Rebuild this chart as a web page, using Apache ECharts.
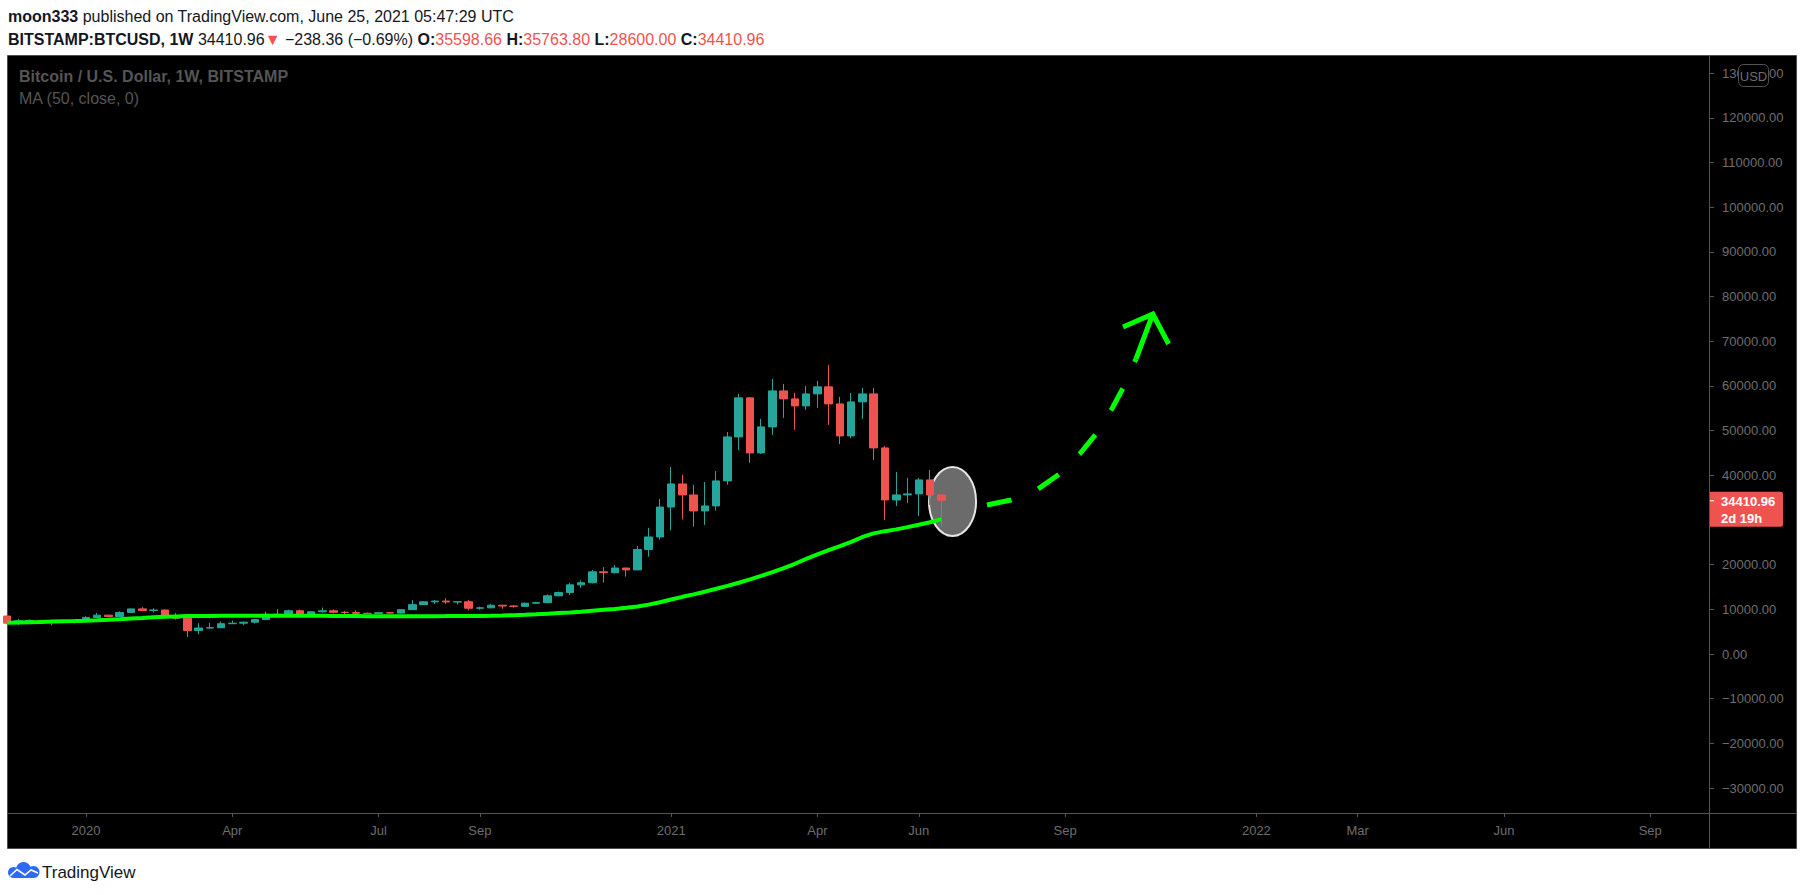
<!DOCTYPE html>
<html><head><meta charset="utf-8">
<script src="https://cdn.jsdelivr.net/npm/echarts@6.0.0/dist/echarts.min.js"></script>
<style>html,body{margin:0;padding:0;background:#fff;}#c{width:1805px;height:895px;}</style>
</head><body><div id="c"></div>
<script>
// ---------- data ----------
const weeks = ['2019-11-18','2019-11-25','2019-12-02','2019-12-09','2019-12-16','2019-12-23','2019-12-30',
'2020-01-06','2020-01-13','2020-01-20','2020-01-27','2020-02-03','2020-02-10','2020-02-17','2020-02-24',
'2020-03-02','2020-03-09','2020-03-16','2020-03-23','2020-03-30','2020-04-06','2020-04-13','2020-04-20','2020-04-27',
'2020-05-04','2020-05-11','2020-05-18','2020-05-25','2020-06-01','2020-06-08','2020-06-15','2020-06-22','2020-06-29',
'2020-07-06','2020-07-13','2020-07-20','2020-07-27','2020-08-03','2020-08-10','2020-08-17','2020-08-24','2020-08-31',
'2020-09-07','2020-09-14','2020-09-21','2020-09-28','2020-10-05','2020-10-12','2020-10-19','2020-10-26',
'2020-11-02','2020-11-09','2020-11-16','2020-11-23','2020-11-30','2020-12-07','2020-12-14','2020-12-21','2020-12-28',
'2021-01-04','2021-01-11','2021-01-18','2021-01-25','2021-02-01','2021-02-08','2021-02-15','2021-02-22',
'2021-03-01','2021-03-08','2021-03-15','2021-03-22','2021-03-29','2021-04-05','2021-04-12','2021-04-19','2021-04-26',
'2021-05-03','2021-05-10','2021-05-17','2021-05-24','2021-05-31','2021-06-07','2021-06-14','2021-06-21'];

const open = [8500,6900,7420,7520,7110,7500,7390,
7360,8180,8700,8380,9300,10100,9750,9850,
8530,8000,5250,5820,5880,6780,6900,7120,7700,
8900,8750,9680,8730,9450,9670,9330,9290,9110,
9070,9250,9160,9930,11050,11680,11850,11650,11700,
10250,10330,10920,10740,10670,11370,11500,13030,
13760,15480,15960,18400,18200,19250,18830,23400,26200,
32900,38070,35610,32030,33150,38750,48600,57340,
45020,50840,58900,57110,55540,58230,59800,55990,48830,
56440,58230,46140,34490,35610,35840,38970,35598.66];
const high = [8600,7850,7760,7650,7520,7690,7540,
8470,9190,8780,9550,10150,10500,10250,9960,
9170,8170,6900,6990,7290,7470,7300,7750,9480,
10050,9930,9950,9600,10380,9990,9650,9800,9300,
9450,9300,10000,12080,11800,12100,12480,11800,12100,
10600,11180,11000,10950,11500,11700,13350,14000,
15950,16500,18800,19450,19900,19300,24200,28250,34700,
41880,40100,37850,38500,40950,49700,58250,57550,
52640,61590,60470,58450,60020,61140,64730,57560,58450,
59580,59580,46590,40760,39420,39420,41200,35763.80];
const low = [6790,6520,7230,6970,6430,7150,6860,
7350,8040,8240,8300,9150,9700,9300,8450,
7700,3800,4440,5690,5860,6760,6460,6800,7650,
8100,8200,8800,8630,9300,9120,8900,8850,8950,
9050,9000,9100,9900,11000,11200,11200,11100,9800,
9900,10260,10130,10370,10530,11200,11400,12900,
13200,14800,15800,16000,18000,17330,18800,21800,25600,
27700,30100,28500,28900,32100,37900,45700,42800,
44800,49050,52860,50200,54650,55100,51300,47000,48300,
52630,43450,30000,33150,33820,30900,33400,28600.00];
const close = [6900,7420,7520,7110,7500,7390,7360,
8180,8700,8380,9300,10100,9750,9850,8530,
8000,5250,5820,5880,6780,6900,7120,7700,8900,
8750,9680,8730,9450,9670,9330,9290,9110,9070,
9250,9160,9930,11050,11680,11850,11650,11700,10250,
10330,10920,10740,10670,11370,11500,13030,13760,
15480,15960,18400,18200,19250,18830,23400,26200,32900,
38070,35610,32030,33150,38750,48600,57340,45020,
50840,58900,57110,55540,58230,59800,55990,48830,56440,
58230,46140,34490,35610,35840,38970,35598.66,34410.96];
// MA (50, close), one value per week
const ma50 = [7000,7060,7120,7180,7250,7320,7390,
7470,7570,7680,7800,7930,8060,8200,8330,
8420,8480,8510,8530,8550,8560,8570,8580,8590,
8590,8590,8580,8570,8550,8530,8510,8490,8470,
8450,8440,8440,8450,8460,8470,8480,8500,8510,
8530,8570,8630,8700,8790,8890,9020,9170,
9300,9450,9680,9900,10100,10330,10650,11050,11600,
12200,12800,13350,13950,14600,15250,15950,16700,
17500,18350,19250,20200,21300,22300,23250,24150,25100,
26200,27000,27500,27900,28400,28950,29500,30150];

// axis ticks (x = weekly bar index, future weeks continue the count)
const xTickIdx  = [7,20,33,42,59,72,81,94,111,120,133,146];
const xTickText = ['2020','Apr','Jul','Sep','2021','Apr','Jun','Sep','2022','Mar','Jun','Sep'];
const yTicks = [-30000,-20000,-10000,0,10000,20000,30000,40000,50000,60000,70000,80000,90000,100000,110000,120000,130000];
const yLabels = [-30000,-20000,-10000,0,10000,20000,40000,50000,60000,70000,80000,90000,100000,110000,120000,130000]; // 30000 sits under the price tag

// hand-drawn annotations (bar index, price)
const arrowCurve = [[87.06,33356],[89.2,34475],[91.6,36938],[93.5,40296],[95.3,44773],[96.75,49250],[98.2,55070],[99.2,59771],[100.3,66040]];
const arrowShaft = [[100.3,66040],[101.8,76114]];
const arrowHead  = [[99.15,73203],[101.8,76114],[103.2,69397]];
const ellipseAnn = [[84.0,34140,2.09,7723]];      // cx, cy, rx, ry
const smaLabel   = [[78.3,18360]];
const smaText    = '50 SMA';
const lastPrice  = 34410.96;
const countdown  = '2d 19h';

// ---------- chart ----------
const FONT = 'Liberation Sans, Arial, sans-serif';
const tickMap = {}; xTickIdx.forEach((v,i)=>{tickMap[v]=xTickText[i];});
const candles = weeks.map((w,i)=>[i, open[i], close[i], low[i], high[i]]);
const fmtY = v => (v<0?'\u2212':'') + Math.abs(v).toFixed(2);
const GREEN = '#00ff00';
const AX = '#555555', LBL = '#6e6e6e';

const chart = echarts.init(document.getElementById('c'), null, {renderer:'svg'});
chart.setOption({
  backgroundColor:'#ffffff',
  animation:false,
  grid:{left:8, right:96, top:55, bottom:82},
  xAxis:{type:'value', min:0.07, max:151.22,
    axisLine:{show:false, onZero:false}, splitLine:{show:false},
    axisTick:{show:true, customValues:xTickIdx, length:4, lineStyle:{color:AX}},
    axisLabel:{customValues:xTickIdx, formatter:v=>tickMap[Math.round(v)]||'', color:LBL, fontSize:13, fontFamily:FONT, margin:11}},
  yAxis:{type:'value', position:'right', min:-35594, max:134094, scale:true,
    axisLine:{show:false, onZero:false}, splitLine:{show:false},
    axisTick:{show:true, customValues:yTicks, length:5, lineStyle:{color:AX}},
    axisLabel:{customValues:yLabels, formatter:fmtY, color:LBL, fontSize:13, fontFamily:FONT, margin:13}},
  series:[
    {type:'custom', z:1, silent:true, clip:false, data:ellipseAnn, encode:{x:0,y:1},
     renderItem:(p,api)=>{const c=api.coord([api.value(0),api.value(1)]);const s=api.size([api.value(2),api.value(3)]);
       return {type:'ellipse', shape:{cx:c[0],cy:c[1],rx:s[0],ry:s[1]}, style:{fill:'#6b6b6b',stroke:'#e6e6e6',lineWidth:2}};}},
    {type:'candlestick', z:3, data:candles, encode:{x:0, y:[1,2,3,4]}, barWidth:8,
     itemStyle:{color:'#26a69a', color0:'#ef5350', borderColor:'#26a69a', borderColor0:'#ef5350', borderWidth:1}},
    {type:'line', z:4, data:ma50.map((v,i)=>[i,v]), symbol:'none', lineStyle:{color:GREEN, width:4}},
    {type:'line', z:5, data:arrowCurve, symbol:'none', lineStyle:{color:GREEN, width:5, type:[25,29], cap:'butt'}},
    {type:'line', z:5, data:arrowShaft, symbol:'none', lineStyle:{color:GREEN, width:5, cap:'butt'}},
    {type:'line', z:5, data:arrowHead, symbol:'none', lineStyle:{color:GREEN, width:5, cap:'butt', join:'miter'}},
    {type:'scatter', z:6, data:smaLabel, symbolSize:1, itemStyle:{opacity:0},
     label:{show:true, position:'inside', formatter:smaText, color:'#ffffff', fontWeight:'bold', fontSize:20, fontFamily:FONT}},
    {type:'custom', z:10, silent:true, clip:false, data:[[0,lastPrice]], encode:{x:0,y:1},
     renderItem:(p,api)=>{const y=api.coord([0.07,api.value(1)])[1];const x=p.coordSys.x+p.coordSys.width;
       return {type:'group', children:[
         {type:'rect', shape:{x:x, y:y-8.5, width:74, height:35, r:[0,2,2,0]}, style:{fill:'#ef5350'}},
         {type:'line', shape:{x1:x, y1:y+0.5, x2:x+5, y2:y+0.5}, style:{stroke:'#ffffff', lineWidth:1}},
         {type:'text', x:x+12, y:y+1.5, style:{text:api.value(1).toFixed(2), fill:'#ffffff', font:'bold 13px '+FONT, verticalAlign:'middle'}},
         {type:'text', x:x+12, y:y+18.5, style:{text:countdown, fill:'#ffffff', font:'bold 13px '+FONT, verticalAlign:'middle'}}
       ]};}}
  ],
  graphic:[
    {type:'rect', z:-100, shape:{x:7.5, y:55.5, width:1789, height:793}, style:{fill:'#000000', stroke:'#4d4d4d', lineWidth:1}},
    {type:'line', z:50, shape:{x1:1709.5, y1:55, x2:1709.5, y2:848}, style:{stroke:AX, lineWidth:1}},
    {type:'line', z:50, shape:{x1:8, y1:813.5, x2:1796, y2:813.5}, style:{stroke:AX, lineWidth:1}},
    {type:'rect', z:60, shape:{x:1738.5, y:64.5, width:30, height:22, r:5}, style:{fill:'#000000', stroke:'#555555', lineWidth:1}},
    {type:'text', z:61, x:1753.5, y:76, style:{text:'USD', fill:LBL, font:'13px '+FONT, align:'center', verticalAlign:'middle'}},
    {type:'text', z:60, x:8, y:16, style:{text:'{b|moon333} {n|published on TradingView.com, June 25, 2021 05:47:29 UTC}',
      rich:{b:{font:'bold 16px '+FONT, fill:'#131722'}, n:{font:'16px '+FONT, fill:'#131722'}}, font:'16px '+FONT, verticalAlign:'middle'}},
    {type:'text', z:60, x:8, y:39, style:{text:'{b|BITSTAMP:BTCUSD, 1W} {n|34410.96}{r|\u25BC} {n|\u2212238.36 (\u22120.69%)} {b|O:}{r|35598.66} {b|H:}{r|35763.80} {b|L:}{r|28600.00} {b|C:}{r|34410.96}',
      rich:{b:{font:'bold 16px '+FONT, fill:'#131722'}, n:{font:'16px '+FONT, fill:'#131722'}, r:{font:'16px '+FONT, fill:'#ef5350'}}, font:'16px '+FONT, verticalAlign:'middle'}},
    {type:'text', z:60, x:19, y:76, style:{text:'Bitcoin / U.S. Dollar, 1W, BITSTAMP', fill:'#555555', font:'bold 16px '+FONT, verticalAlign:'middle'}},
    {type:'text', z:60, x:19, y:98, style:{text:'MA (50, close, 0)', fill:'#555555', font:'16px '+FONT, verticalAlign:'middle'}},
    {type:'circle', z:60, shape:{cx:13.5, cy:872.5, r:5.5}, style:{fill:'#2e6bf5'}},
    {type:'circle', z:60, shape:{cx:23.5, cy:869.5, r:7.5}, style:{fill:'#2e6bf5'}},
    {type:'circle', z:60, shape:{cx:33.5, cy:872, r:6}, style:{fill:'#2e6bf5'}},
    {type:'rect', z:60, shape:{x:13.5, y:871, width:20, height:7}, style:{fill:'#2e6bf5'}},
    {type:'polyline', z:61, shape:{points:[[10,876],[17,869.5],[25,875],[31,870],[38,873]]}, style:{stroke:'#ffffff', lineWidth:1.6, fill:null}},
    {type:'text', z:60, x:42, y:872, style:{text:'TradingView', fill:'#131722', font:'17px '+FONT, verticalAlign:'middle'}}
  ]
});
</script></body></html>
